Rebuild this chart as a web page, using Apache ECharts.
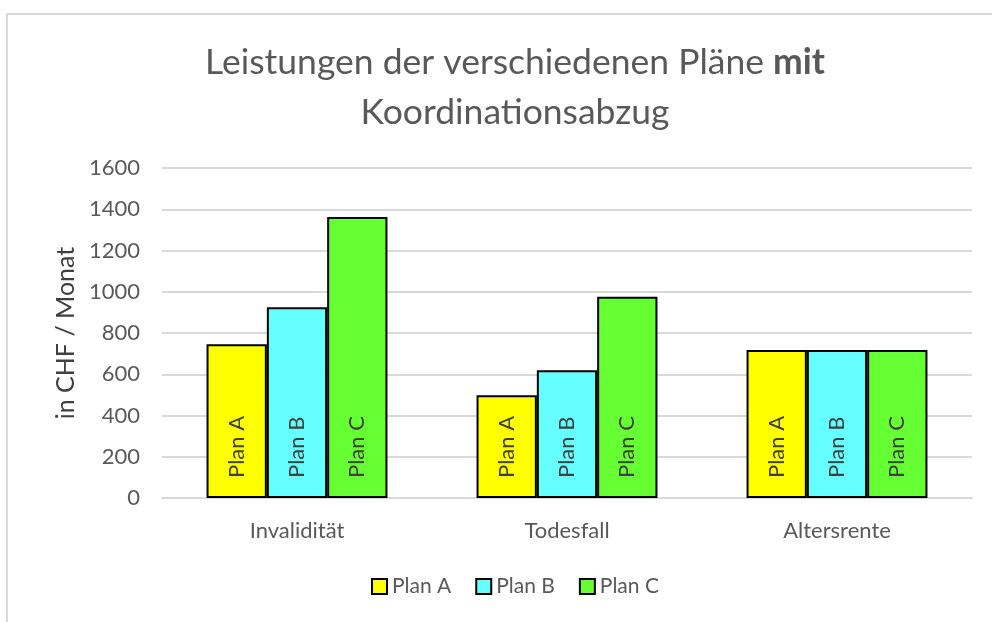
<!DOCTYPE html>
<html><head><meta charset="utf-8">
<script src="https://cdn.jsdelivr.net/npm/echarts@6/dist/echarts.min.js"></script>
<style>
html,body{margin:0;padding:0;background:#fff;}
#frame{position:absolute;left:6px;top:13px;width:1000px;height:700px;border:2px solid #d9d9d9;box-sizing:border-box;}
#chart{position:absolute;left:0;top:0;width:992px;height:622px;}
</style></head>
<body>
<div id="frame"></div>
<div id="chart"></div>
<script>
const categories = ['Invalidität', 'Todesfall', 'Altersrente'];
const seriesNames = ['Plan A', 'Plan B', 'Plan C'];
const planA = [745, 498, 718];
const planB = [925, 620, 718];
const planC = [1362, 976, 718];
const yTicks = [0, 200, 400, 600, 800, 1000, 1200, 1400, 1600];
const colors = ['#ffff00', '#66ffff', '#66ff33'];

const font = 'Lato';
const chart = echarts.init(document.getElementById('chart'));
const values = [planA, planB, planC];
chart.setOption({
  animation: false,
  title: {
    text: '{n|Leistungen der verschiedenen Pläne }{b|mit}\n{n|Koordinationsabzug}',
    left: 510, textAlign: 'center', top: 33,
    textStyle: {
      fontWeight: 'normal',
      rich: {
        n: {fontFamily: font, fontSize: 35.5, color: '#595959', fontWeight: 'normal', lineHeight: 50},
        b: {fontFamily: font, fontSize: 35.5, color: '#595959', fontWeight: 'bold', lineHeight: 50}
      }
    }
  },
  legend: {
    data: seriesNames, bottom: 20, left: 366,
    itemWidth: 15, itemHeight: 15, itemGap: 24,
    icon: 'rect',
    textStyle: {fontFamily: font, fontSize: 21, color: '#595959'}
  },
  grid: {left: 162, right: 20, top: 168, bottom: 124},
  xAxis: {
    type: 'category', data: categories,
    axisLine: {lineStyle: {color: '#d9d9d9', width: 2}},
    axisTick: {show: false},
    axisLabel: {fontFamily: font, fontSize: 22, color: '#595959', margin: 22}
  },
  yAxis: {
    type: 'value', min: 0, max: 1600, interval: 200,
    name: 'in CHF / Monat', nameLocation: 'middle', nameGap: 82, nameRotate: 90,
    nameTextStyle: {fontFamily: font, fontSize: 25, color: '#404040'},
    axisLabel: {fontFamily: font, fontSize: 22, color: '#595959', margin: 22,
      formatter: v => yTicks.includes(v) ? String(v) : ''},
    splitLine: {lineStyle: {color: '#d9d9d9', width: 2}},
    axisLine: {show: false}, axisTick: {show: false}
  },
  series: seriesNames.map((n, i) => ({
    name: n, type: 'bar', data: values[i],
    barGap: '0%', barCategoryGap: '33%',
    itemStyle: {color: colors[i], borderColor: '#000', borderWidth: 2},
    label: {
      show: true, formatter: n, rotate: 90, position: 'insideBottom',
      distance: 20, align: 'left', verticalAlign: 'middle',
      fontFamily: font, fontSize: 22, color: '#404040'
    }
  }))
});
</script>
</body></html>
